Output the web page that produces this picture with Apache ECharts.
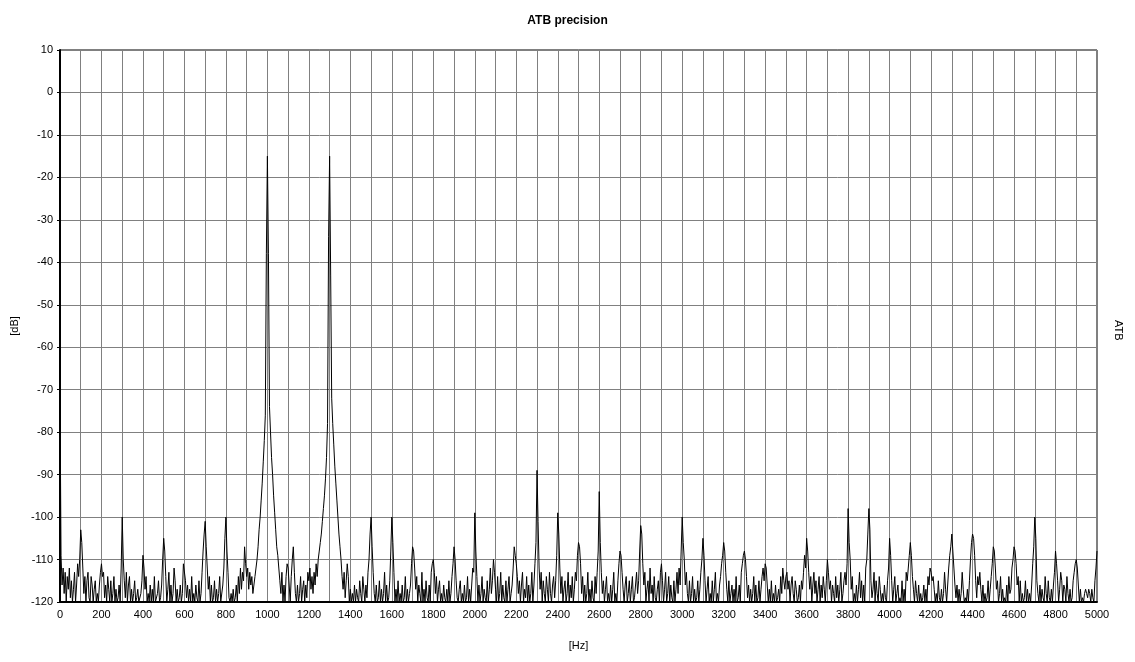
<!DOCTYPE html>
<html>
<head>
<meta charset="utf-8">
<script src="https://cdn.jsdelivr.net/npm/echarts@6/dist/echarts.min.js"></script>
<style>
html,body{margin:0;padding:0;background:#fff;}
#chart{width:1135px;height:662px;}
</style>
</head>
<body>
<div id="chart"></div>
<script>
// Spectrum level in dB, one value every 5 Hz from 0 Hz to 5000 Hz (rows of 100 Hz)
const freqStepHz = 5;
const dbLevels = [
-72,-109,-116,-112,-118,-113,-120,-114,-117,-112,-119,-115,-120,-117,-113,-120,-116,-111,-114,-110,
-103,-106,-112,-118,-114,-120,-115,-113,-119,-120,-114,-116,-120,-117,-115,-120,-118,-120,-116,-113,
-111,-114,-113,-119,-116,-120,-114,-117,-120,-115,-120,-118,-114,-120,-117,-120,-119,-116,-120,-112,
-100,-110,-115,-119,-113,-120,-116,-114,-120,-117,-120,-118,-115,-120,-119,-117,-120,-120,-118,-115,
-109,-112,-117,-114,-120,-118,-120,-116,-120,-117,-120,-114,-120,-120,-118,-115,-120,-119,-116,-110,
-105,-108,-114,-120,-117,-113,-120,-116,-120,-118,-112,-115,-120,-117,-120,-119,-116,-120,-118,-111,
-111,-115,-119,-116,-120,-117,-120,-114,-120,-118,-120,-116,-119,-120,-115,-120,-118,-113,-108,-104,
-101,-107,-112,-117,-114,-120,-116,-120,-119,-115,-120,-117,-120,-118,-114,-120,-120,-116,-112,-105,
-100,-108,-113,-119,-120,-118,-120,-117,-120,-119,-116,-120,-114,-118,-112,-117,-113,-115,-107,-111,
-114,-112,-117,-113,-116,-114,-118,-116,-114,-112,-110,-107,-103,-100,-96,-92,-87,-82,-76,-38,
-15,-38,-74,-80,-86,-90,-95,-99,-103,-107,-109,-112,-115,-118,-113,-120,-116,-120,-114,-111,
-112,-116,-120,-114,-110,-107,-113,-118,-120,-116,-120,-118,-114,-120,-117,-115,-120,-116,-119,-113,
-115,-112,-117,-114,-118,-113,-116,-111,-114,-110,-108,-106,-104,-101,-98,-95,-91,-86,-78,-34,
-15,-43,-72,-78,-83,-88,-92,-96,-100,-104,-107,-110,-114,-117,-113,-119,-115,-111,-114,-120,
-117,-120,-118,-120,-116,-120,-117,-119,-120,-115,-118,-120,-114,-117,-120,-116,-119,-113,-110,-104,
-100,-107,-113,-118,-120,-116,-120,-119,-115,-120,-117,-120,-118,-113,-120,-116,-120,-119,-115,-108,
-100,-106,-113,-120,-117,-120,-115,-120,-118,-120,-116,-120,-119,-114,-120,-117,-120,-118,-116,-111,
-107,-108,-112,-117,-114,-120,-116,-118,-120,-113,-120,-117,-120,-115,-119,-120,-116,-120,-113,-111,
-110,-113,-118,-114,-120,-117,-115,-120,-118,-120,-116,-119,-120,-117,-120,-115,-120,-118,-114,-111,
-107,-110,-115,-119,-120,-117,-115,-120,-118,-120,-116,-120,-119,-114,-120,-117,-120,-116,-112,-113,
-99,-108,-114,-120,-116,-120,-118,-114,-120,-117,-119,-120,-115,-120,-117,-112,-118,-115,-110,-113,
-117,-120,-114,-120,-118,-113,-120,-116,-119,-120,-115,-120,-117,-114,-120,-118,-116,-112,-107,-109,
-111,-114,-118,-115,-120,-116,-113,-120,-117,-119,-114,-120,-116,-120,-118,-113,-120,-116,-111,-106,
-89,-101,-112,-117,-113,-120,-115,-118,-120,-114,-117,-120,-113,-118,-120,-116,-114,-119,-115,-109,
-99,-104,-112,-118,-114,-120,-117,-115,-120,-118,-113,-120,-116,-119,-114,-120,-117,-113,-115,-109,
-106,-107,-111,-118,-114,-120,-116,-120,-118,-113,-120,-117,-120,-115,-119,-120,-114,-118,-113,-108,
-94,-106,-113,-118,-115,-120,-117,-114,-120,-118,-120,-116,-120,-117,-113,-120,-118,-120,-115,-111,
-108,-109,-113,-117,-120,-116,-114,-120,-118,-115,-120,-117,-114,-120,-119,-116,-113,-118,-115,-108,
-102,-104,-111,-116,-113,-120,-117,-115,-120,-112,-118,-116,-120,-114,-119,-120,-117,-115,-120,-113,
-111,-115,-120,-117,-113,-120,-118,-114,-120,-116,-119,-120,-115,-120,-117,-113,-118,-112,-116,-108,
-100,-106,-110,-116,-113,-118,-120,-115,-120,-118,-114,-120,-117,-120,-119,-115,-120,-117,-113,-110,
-105,-109,-115,-120,-117,-114,-120,-118,-120,-115,-120,-117,-113,-120,-118,-120,-116,-114,-111,-109,
-106,-108,-113,-117,-120,-115,-120,-118,-116,-120,-117,-120,-114,-120,-119,-116,-120,-113,-111,-109,
-108,-110,-114,-119,-116,-120,-117,-120,-118,-114,-120,-116,-120,-119,-115,-120,-117,-114,-112,-115,
-111,-112,-116,-120,-117,-120,-115,-120,-118,-120,-116,-120,-119,-117,-120,-114,-118,-112,-115,-117,
-114,-113,-117,-115,-120,-116,-114,-118,-120,-115,-117,-120,-119,-116,-120,-115,-117,-113,-109,-112,
-105,-108,-113,-117,-114,-120,-116,-113,-118,-115,-120,-117,-114,-120,-116,-119,-114,-117,-120,-115,
-110,-113,-117,-115,-120,-116,-118,-120,-114,-119,-116,-120,-117,-113,-120,-118,-115,-113,-116,-111,
-98,-106,-110,-117,-114,-120,-118,-120,-116,-120,-117,-113,-119,-115,-120,-116,-120,-112,-110,-104,
-98,-103,-115,-119,-117,-113,-120,-115,-118,-120,-114,-117,-120,-118,-120,-116,-119,-120,-115,-112,
-105,-109,-115,-120,-117,-114,-120,-118,-116,-120,-119,-120,-115,-120,-117,-120,-113,-115,-112,-109,
-106,-109,-114,-117,-120,-115,-118,-120,-116,-120,-118,-120,-119,-116,-120,-117,-120,-114,-116,-112,
-113,-115,-114,-117,-120,-118,-120,-115,-119,-120,-117,-120,-118,-113,-117,-120,-116,-112,-109,-107,
-104,-108,-112,-116,-119,-116,-120,-117,-120,-118,-113,-117,-120,-119,-120,-117,-120,-115,-110,-106,
-104,-105,-109,-115,-119,-114,-116,-113,-117,-120,-116,-120,-118,-120,-119,-115,-120,-117,-114,-111,
-107,-108,-112,-117,-115,-120,-118,-114,-120,-117,-120,-119,-120,-116,-120,-114,-118,-117,-112,-110,
-107,-108,-111,-116,-114,-120,-115,-120,-118,-120,-119,-115,-120,-117,-120,-118,-120,-116,-111,-107,
-100,-105,-115,-118,-120,-116,-120,-117,-119,-120,-114,-118,-120,-115,-119,-120,-117,-120,-116,-113,
-108,-111,-115,-120,-117,-113,-115,-120,-116,-117,-120,-114,-118,-120,-117,-120,-119,-115,-113,-111,
-110,-112,-116,-120,-117,-120,-119,-120,-118,-117,-118,-119,-117,-118,-120,-117,-119,-120,-115,-112,
-108
];
const xTickLabelStep = 200;   // Hz between x tick labels
const xGridStep = 100;        // Hz between vertical grid lines
const yTicks = [10, 0, -10, -20, -30, -40, -50, -60, -70, -80, -90, -100, -110, -120];

const seriesData = dbLevels.map((v, i) => [i * freqStepHz, v]);

const chart = echarts.init(document.getElementById('chart'), null, {renderer: 'canvas'});
const font = 'Liberation Sans, Arial, sans-serif';
chart.setOption({
  animation: false,
  backgroundColor: '#ffffff',
  title: {
    text: 'ATB precision',
    left: 'center',
    top: 10,
    textStyle: {fontFamily: font, fontSize: 12, fontWeight: 'bold', color: '#000'}
  },
  grid: {
    left: 60, right: 38, top: 50, bottom: 60,
    show: true, borderColor: '#000', borderWidth: 1, backgroundColor: '#fff'
  },
  xAxis: {
    type: 'value',
    min: 0, max: 5000, interval: xGridStep,
    name: '[Hz]', nameLocation: 'middle', nameGap: 38,
    nameTextStyle: {fontFamily: font, fontSize: 11, color: '#000'},
    axisLine: {show: true, onZero: false, lineStyle: {color: '#000', width: 2}},
    axisTick: {show: false},
    axisLabel: {
      fontFamily: font, fontSize: 11, color: '#000', margin: 7,
      formatter: v => (v % xTickLabelStep === 0 ? String(v) : '')
    },
    splitLine: {show: true, lineStyle: {color: '#808080', width: 1}}
  },
  yAxis: {
    type: 'value',
    min: yTicks[yTicks.length - 1], max: yTicks[0], interval: 10,
    name: '[dB]', nameLocation: 'middle', nameGap: 36, nameRotate: 90,
    nameTextStyle: {fontFamily: font, fontSize: 11, color: '#000'},
    axisLine: {show: true, onZero: false, lineStyle: {color: '#000', width: 2}},
    axisTick: {show: true, length: 3, lineStyle: {color: '#000'}},
    axisLabel: {fontFamily: font, fontSize: 11, color: '#000', margin: 7},
    splitLine: {show: true, lineStyle: {color: '#808080', width: 1}}
  },
  graphic: [{
    type: 'text',
    x: 1124, y: 320,
    rotation: -Math.PI / 2,
    style: {text: 'ATB', fontFamily: font, fontSize: 11, fill: '#000'}
  }],
  series: [{
    type: 'line',
    data: seriesData,
    showSymbol: false,
    sampling: null,
    lineStyle: {color: '#000', width: 1},
    clip: true
  }]
});
</script>
</body>
</html>
